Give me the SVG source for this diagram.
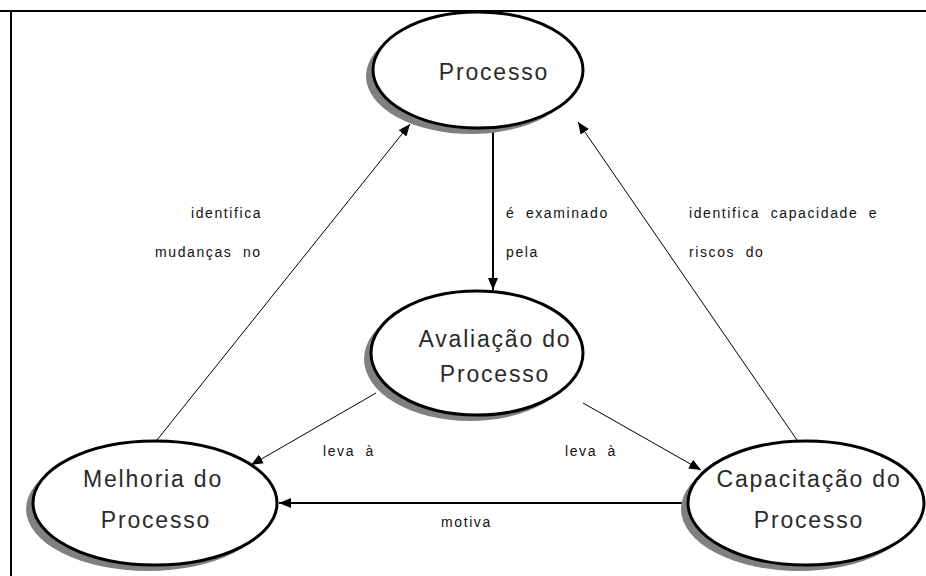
<svg xmlns="http://www.w3.org/2000/svg" width="926" height="576" viewBox="0 0 926 576">
  <defs>
    <marker id="arrow" viewBox="0 0 12 10" refX="12" refY="5" markerWidth="12" markerHeight="10" markerUnits="userSpaceOnUse" orient="auto">
      <path d="M0,0 L12,5 L0,10 Z" fill="#000"/>
    </marker>
    <style>
      .shadow { fill: #808080; stroke: none; }
      .node { fill: #fff; stroke: #000; stroke-width: 3; }
      .ntext { font-family: "Liberation Sans", Arial, sans-serif; font-size: 23px; fill: #2a2a2a; text-anchor: middle; letter-spacing: 1.8px; }
      .ltext { font-family: "Liberation Sans", Arial, sans-serif; font-size: 14px; fill: #111; letter-spacing: 1.6px; word-spacing: 5px; }
      .edge { stroke: #000; stroke-width: 1; fill: none; marker-end: url(#arrow); }
      .edge.thick { stroke-width: 2; }
    </style>
  </defs>
  <rect width="926" height="576" fill="#fff"/>
  <!-- frame -->
  <g id="frame" stroke="#000" stroke-width="2" fill="none">
    <line x1="0" y1="11" x2="926" y2="11"/>
    <line x1="11" y1="11" x2="11" y2="576"/>
  </g>

  <g id="connectors">
    <line class="edge thick" x1="493" y1="128" x2="493" y2="290"/>
    <line class="edge" x1="157" y1="440" x2="410" y2="124"/>
    <line class="edge" x1="797" y1="440" x2="578" y2="122"/>
    <line class="edge" x1="376" y1="393" x2="251" y2="465"/>
    <line class="edge" x1="583" y1="403" x2="701" y2="470"/>
    <line class="edge thick" x1="686" y1="503" x2="279" y2="503"/>
  </g>

  <g id="processo">
    <ellipse class="shadow" cx="471" cy="76" rx="105" ry="58"/>
    <ellipse class="node" cx="478" cy="70" rx="105" ry="58"/>
    <text class="ntext" x="494" y="80">Processo</text>
  </g>

  <g id="avaliacao">
    <ellipse class="shadow" cx="470" cy="359" rx="106" ry="62"/>
    <ellipse class="node" cx="477" cy="353" rx="106" ry="62"/>
    <text class="ntext" x="495" y="347">Avaliação do</text>
    <text class="ntext" x="495" y="382">Processo</text>
  </g>

  <g id="melhoria">
    <ellipse class="shadow" cx="148" cy="509" rx="122" ry="62"/>
    <ellipse class="node" cx="155" cy="503" rx="122" ry="62"/>
    <text class="ntext" x="153" y="487">Melhoria do</text>
    <text class="ntext" x="156" y="528">Processo</text>
  </g>

  <g id="capacitacao">
    <ellipse class="shadow" cx="799" cy="509" rx="118" ry="62"/>
    <ellipse class="node" cx="806" cy="503" rx="118" ry="62"/>
    <text class="ntext" x="809" y="487">Capacitação do</text>
    <text class="ntext" x="809" y="528">Processo</text>
  </g>

  <g id="labels">
    <text class="ltext" x="191" y="218">identifica</text>
    <text class="ltext" x="155" y="257">mudanças no</text>
    <text class="ltext" x="506" y="218">é examinado</text>
    <text class="ltext" x="506" y="257">pela</text>
    <text class="ltext" x="689" y="218">identifica capacidade e</text>
    <text class="ltext" x="689" y="257">riscos do</text>
    <text class="ltext" x="323" y="456">leva à</text>
    <text class="ltext" x="565" y="456">leva à</text>
    <text class="ltext" x="441" y="527">motiva</text>
  </g>
</svg>
